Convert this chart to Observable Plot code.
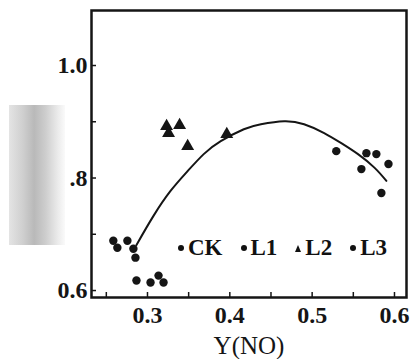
<!DOCTYPE html>
<html><head><meta charset="utf-8">
<script src="https://cdn.jsdelivr.net/npm/d3@7"></script>
<script src="https://cdn.jsdelivr.net/npm/@observablehq/plot@0.6"></script>
<style>
body{margin:0;background:#fff;}
#wrap{position:relative;width:411px;height:359px;overflow:hidden;background:#fff;}
#wrap svg{display:block;}
g[aria-label="x-axis label"] text{font-weight:normal;font-size:25px;}
#shade{position:absolute;left:9px;top:105px;width:56px;height:140px;
 background:linear-gradient(to right,#e4e4e4 0%,#cfcfcf 25%,#b9b9b9 45%,#cdcdcd 65%,#ececec 88%,#fafafa 100%);}
#legend{position:absolute;left:178px;top:235px;display:flex;align-items:center;gap:18px;
 font-family:"Liberation Serif",serif;font-weight:bold;font-size:23px;color:#111;}
#legend .item{display:flex;align-items:center;gap:4px;}
#legend .dot{width:6px;height:6px;border-radius:50%;background:#111;}
#legend .tri{width:0;height:0;border-left:3.5px solid transparent;border-right:3.5px solid transparent;border-bottom:7px solid #111;}
</style></head><body><div id="wrap"></div><script>
// series values
const ckX = [0.2585, 0.2634, 0.2756, 0.2829, 0.2854];
const ckY = [0.6885, 0.6761, 0.6885, 0.6743, 0.6584];
const l1X = [0.2866, 0.3037, 0.3134, 0.3195];
const l1Y = [0.6177, 0.6142, 0.6265, 0.6142];
const l2X = [0.3232, 0.3256, 0.3390, 0.3488, 0.3963];
const l2Y = [0.8920, 0.8796, 0.8938, 0.8566, 0.8779];
const l3X = [0.5293, 0.5659, 0.5780, 0.5927, 0.5598, 0.5841];
const l3Y = [0.8478, 0.8442, 0.8425, 0.8248, 0.8159, 0.7735];
// fitted curve, read at points along it
const fitX = [0.2866, 0.3073, 0.328, 0.3488, 0.3683, 0.389, 0.417, 0.4378, 0.4659, 0.4902, 0.5146, 0.5354, 0.5561, 0.5756, 0.5902];
const fitY = [0.681, 0.7327, 0.777, 0.8124, 0.8425, 0.8655, 0.8867, 0.8956, 0.9009, 0.8956, 0.8800, 0.8620, 0.8420, 0.8185, 0.7950];
// axes
const xTicks = [0.25, 0.3, 0.35, 0.4, 0.45, 0.5, 0.55, 0.6];
const xLabelTicks = [0.3, 0.4, 0.5, 0.6];
const xLabels = ["0.3", "0.4", "0.5", "0.6"];
const yTicks = [0.6, 0.7, 0.8, 0.9, 1.0];
const yLabelTicks = [0.6, 0.8, 1.0];
const yLabels = ["0.6", ".8", "1.0"];
const xTitle = "Y(NO)";
const legendNames = ["CK", "L1", "L2", "L3"];
const legendSymbols = ["dot", "dot", "tri", "dot"];

const pts = (xs, ys, s) => xs.map((x, i) => ({x, y: ys[i], s}));
const dots = [...pts(ckX, ckY, "CK"), ...pts(l1X, l1Y, "L1"), ...pts(l3X, l3Y, "L3")];
const tris = pts(l2X, l2Y, "L2");
const fit = pts(fitX, fitY, "fit");

const ink = "#151515";
const chart = Plot.plot({
  width: 411, height: 359,
  marginLeft: 91, marginRight: 5, marginTop: 10, marginBottom: 62,
  x: {domain: [0.232, 0.6146]},
  y: {domain: [0.5876, 1.0978]},
  style: {fontFamily: "Liberation Serif, serif", color: ink, background: "transparent"},
  marks: [
    Plot.line(fit, {x: "x", y: "y", curve: "natural", stroke: ink, strokeWidth: 2}),
    Plot.dot(dots, {x: "x", y: "y", r: 4.2, fill: ink, stroke: "none"}),
    Plot.dot(tris, {x: "x", y: "y", r: 4.8, symbol: "triangle", fill: ink, stroke: "none"}),
    Plot.axisX(xTicks, {tickSize: -5, tickFormat: () => "", stroke: ink, strokeWidth: 1.5, label: null}),
    Plot.axisX(xLabelTicks, {tickSize: 0, tickPadding: 8, tickFormat: d => xLabels[xLabelTicks.indexOf(d)],
      fontSize: 24, fontWeight: "bold", fill: ink, label: xTitle, labelArrow: "none", labelAnchor: "center", labelOffset: 56}),
    Plot.axisY(yTicks, {tickSize: -5, tickFormat: () => "", stroke: ink, strokeWidth: 1.5, label: null}),
    Plot.axisY(yLabelTicks, {tickSize: 0, tickPadding: 4, tickFormat: d => yLabels[yLabelTicks.indexOf(d)],
      fontSize: 24, fontWeight: "bold", fill: ink, label: null}),
    Plot.frame({stroke: ink, strokeWidth: 2.5})
  ]
});
const wrap = document.getElementById("wrap");
wrap.appendChild(chart);
const shade = document.createElement("div");
shade.id = "shade";
wrap.appendChild(shade);
const legend = document.createElement("div");
legend.id = "legend";
legendNames.forEach((n, i) => {
  const it = document.createElement("div");
  it.className = "item";
  const m = document.createElement("div");
  m.className = legendSymbols[i];
  const t = document.createElement("span");
  t.textContent = n;
  it.appendChild(m); it.appendChild(t);
  legend.appendChild(it);
});
wrap.appendChild(legend);
</script></body></html>
